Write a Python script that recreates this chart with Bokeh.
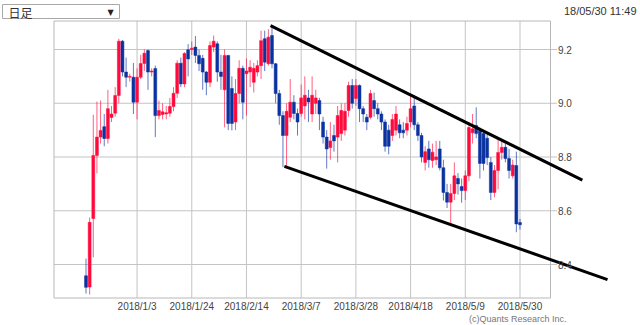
import pandas as pd
from bokeh.plotting import figure
from bokeh.models import ColumnDataSource, Range1d
from bokeh.core.properties import value
from bokeh.embed import file_html
from bokeh.resources import INLINE

# ---- data (daily candles, 2017/12/14 .. 2018/5/30) ----
dates = pd.bdate_range("2017-12-14", periods=120)

open_ = [8.358, 8.316, 8.571, 8.806, 8.874, 8.913, 8.869, 8.947, 8.963, 9.029,
         9.231, 9.116, 9.097, 9.097, 9.004, 9.097, 9.148, 9.196, 9.116, 9.129,
         8.954, 8.958, 8.960, 8.963, 8.988, 9.037, 9.149, 9.072, 9.199, 9.200,
         9.209, 9.178, 9.167, 9.116, 9.078, 9.209, 9.221, 9.116, 9.050, 9.178,
         9.055, 8.930, 9.036, 9.130, 9.110, 9.116, 9.078, 9.116, 9.140, 9.240,
         9.147, 9.252, 9.147, 9.036, 8.954, 8.880, 8.948, 9.004, 8.962, 8.962,
         8.990, 9.020, 8.960, 9.000, 9.010, 8.930, 8.874, 8.835, 8.880, 8.874,
         8.887, 8.900, 8.973, 9.066, 9.018, 9.066, 8.980, 8.948, 8.948, 9.010,
         8.980, 8.960, 8.930, 8.900, 8.880, 8.900, 8.920, 8.900, 8.900, 8.930,
         8.990, 8.920, 8.880, 8.780, 8.830, 8.787, 8.790, 8.830, 8.760, 8.668,
         8.632, 8.664, 8.720, 8.690, 8.675, 8.730, 8.890, 8.917, 8.899, 8.887,
         8.870, 8.780, 8.668, 8.750, 8.817, 8.836, 8.794, 8.730, 8.768, 8.556]
high = [8.422, 8.575, 8.957, 9.006, 9.010, 8.960, 9.050, 8.990, 9.060, 9.240,
        9.235, 9.170, 9.110, 9.150, 9.130, 9.180, 9.200, 9.200, 9.130, 9.140,
        9.010, 9.000, 8.990, 9.020, 9.060, 9.160, 9.170, 9.190, 9.220, 9.230,
        9.250, 9.200, 9.180, 9.120, 9.230, 9.252, 9.230, 9.180, 9.200, 9.180,
        9.100, 9.090, 9.160, 9.140, 9.167, 9.160, 9.150, 9.160, 9.270, 9.270,
        9.275, 9.289, 9.150, 9.050, 8.970, 9.000, 9.090, 9.030, 8.980, 9.070,
        9.100, 9.050, 9.100, 9.050, 9.020, 8.950, 8.900, 8.930, 8.920, 8.990,
        9.000, 9.000, 9.080, 9.090, 9.090, 9.070, 8.990, 8.960, 9.050, 9.040,
        9.000, 8.970, 8.940, 8.920, 8.960, 8.990, 8.940, 8.930, 8.950, 9.030,
        9.030, 8.930, 8.890, 8.840, 8.860, 8.850, 8.860, 8.860, 8.790, 8.700,
        8.700, 8.780, 8.740, 8.720, 8.750, 8.930, 8.960, 8.985, 8.910, 8.900,
        8.890, 8.800, 8.770, 8.870, 8.860, 8.850, 8.830, 8.790, 8.820, 8.570]
low = [8.292, 8.288, 8.427, 8.739, 8.850, 8.840, 8.850, 8.930, 8.950, 9.000,
       9.100, 9.060, 9.080, 8.960, 8.940, 9.090, 9.120, 9.050, 9.100, 8.874,
       8.940, 8.940, 8.940, 8.950, 8.970, 9.020, 9.060, 9.060, 9.100, 9.180,
       9.150, 9.120, 9.050, 9.030, 9.060, 9.190, 9.080, 9.050, 8.910, 8.900,
       8.899, 8.900, 9.000, 8.940, 8.954, 9.060, 9.040, 9.100, 9.090, 9.120,
       9.140, 9.130, 9.000, 8.920, 8.762, 8.757, 8.930, 8.940, 8.880, 8.950,
       8.940, 8.930, 8.930, 8.960, 8.900, 8.850, 8.757, 8.790, 8.820, 8.780,
       8.860, 8.880, 8.950, 8.980, 8.990, 8.930, 8.930, 8.900, 8.940, 8.950,
       8.940, 8.900, 8.820, 8.810, 8.860, 8.880, 8.870, 8.870, 8.880, 8.910,
       8.900, 8.860, 8.780, 8.750, 8.760, 8.760, 8.770, 8.750, 8.638, 8.610,
       8.553, 8.640, 8.660, 8.630, 8.640, 8.710, 8.850, 8.870, 8.720, 8.750,
       8.770, 8.640, 8.650, 8.680, 8.790, 8.780, 8.720, 8.720, 8.520, 8.530]
close = [8.315, 8.557, 8.806, 8.874, 8.899, 8.869, 8.980, 8.960, 9.029, 9.231,
         9.116, 9.097, 9.100, 9.004, 9.097, 9.148, 9.186, 9.116, 9.120, 8.954,
         8.973, 8.968, 8.965, 8.988, 9.037, 9.149, 9.072, 9.185, 9.165, 9.205,
         9.178, 9.147, 9.116, 9.078, 9.215, 9.231, 9.116, 9.100, 9.178, 8.925,
         8.925, 9.036, 9.130, 9.004, 9.120, 9.134, 9.130, 9.140, 9.233, 9.153,
         9.246, 9.147, 9.036, 8.954, 8.880, 8.970, 9.004, 8.962, 8.930, 9.020,
         9.030, 9.005, 9.030, 9.020, 8.960, 8.874, 8.830, 8.860, 8.860, 8.954,
         8.973, 8.970, 9.066, 9.000, 9.066, 8.980, 8.960, 8.930, 9.036, 8.980,
         8.960, 8.930, 8.840, 8.840, 8.940, 8.960, 8.890, 8.890, 8.925, 8.980,
         8.920, 8.880, 8.800, 8.820, 8.790, 8.818, 8.800, 8.760, 8.668, 8.632,
         8.664, 8.730, 8.700, 8.675, 8.730, 8.910, 8.905, 8.887, 8.776, 8.776,
         8.798, 8.668, 8.750, 8.817, 8.836, 8.794, 8.750, 8.770, 8.551, 8.548]

tick_labels = ["2018/1/3", "2018/1/24", "2018/2/14", "2018/3/7",
               "2018/3/28", "2018/4/18", "2018/5/9", "2018/5/30"]
y_ticks = [8.4, 8.6, 8.8, 9.0, 9.2]
y_tick_labels = ["8.4", "8.6", "8.8", "9.0", "9.2"]

# trend lines drawn on the chart (candle index, price)
upper_trend_idx = [50.6, 136.1]
upper_trend_val = [9.289, 8.714]
lower_trend_idx = [54.4, 143.0]
lower_trend_val = [8.765, 8.344]

# ---- layout constants (pixels) ----
W, H = 640, 325
X0_PX, DX_PX = 85.5, 3.647          # pixel of candle 0, pixels per candle
Y_REF, Y_REF_PX, DY_PX = 9.2, 49.0, 268.75   # price 9.2 at y=49px, px per 1.0
BOX_L, BOX_R, BOX_T, BOX_B = 53.5, 550.0, 20.5, 297.5
TICK_END = 556.5


def ix(px):
    return (px - X0_PX) / DX_PX


def vy(py):
    return Y_REF - (py - Y_REF_PX) / DY_PX


labels_all = [f"{d.year}/{d.month}/{d.day}" for d in dates]
tick_pos = [labels_all.index(t) for t in tick_labels]

UP = "#ff0a3c"
DN = "#0a32a0"
GRID = "#c4c4c4"
idx = list(range(len(dates)))
colors = [UP if c >= o else DN for o, c in zip(open_, close)]
src = ColumnDataSource(dict(
    x=idx, high=high, low=low,
    top=[max(o, c) for o, c in zip(open_, close)],
    bottom=[min(o, c) for o, c in zip(open_, close)],
    color=colors))

p = figure(width=W, height=H, output_backend="svg", toolbar_location=None,
           x_range=Range1d(ix(0), ix(W)), y_range=Range1d(vy(H), vy(0)),
           min_border=0, x_axis_type=None, y_axis_type=None)
p.outline_line_color = None
p.grid.visible = False
p.background_fill_color = "white"
p.border_fill_color = "white"

# grid
p.segment(x0=tick_pos, x1=tick_pos, y0=[vy(BOX_B)] * len(tick_pos),
          y1=[vy(BOX_T)] * len(tick_pos), line_color=GRID, line_width=1)
p.segment(x0=[ix(BOX_L)] * len(y_ticks), x1=[ix(TICK_END)] * len(y_ticks),
          y0=y_ticks, y1=y_ticks, line_color=GRID, line_width=1)
# plot box
p.quad(left=[ix(BOX_L)], right=[ix(BOX_R)], bottom=[vy(BOX_B)], top=[vy(BOX_T)],
       fill_color=None, line_color="#b8b8b8", line_width=1)

# candles
p.segment(x0="x", y0="low", x1="x", y1="high", color="color", line_width=1,
          line_alpha=0.65, source=src)
p.vbar(x="x", top="top", bottom="bottom", width=0.8, fill_color="color",
       line_color="color", line_width=0.5, source=src)

# trend lines
p.line(upper_trend_idx, upper_trend_val, line_color="black", line_width=3)
p.line(lower_trend_idx, lower_trend_val, line_color="black", line_width=3)

# axis labels
p.text(x=tick_pos, y=[vy(BOX_B + 3)] * len(tick_pos), text=tick_labels,
       text_font=value("Liberation Sans"), text_font_size=value("10px"),
       text_color="#444444", text_align="center", text_baseline="top")
p.text(x=[ix(TICK_END + 1)] * len(y_ticks), y=y_ticks, text=y_tick_labels,
       text_font=value("Liberation Sans"), text_font_size=value("10px"),
       text_color="#444444", text_align="left", text_baseline="middle")

# header: selector box, timestamp; footer: copyright
p.quad(left=[ix(2)], right=[ix(119)], top=[vy(4)], bottom=[vy(18)],
       fill_color="white", line_color="#a8a8a8", line_width=1)
p.text(x=[ix(8)], y=[vy(11.5)], text=["日足"], text_font=value("Noto Sans CJK JP"),
       text_font_size=value("12px"), text_color="#333333", text_baseline="middle")
p.text(x=[ix(110)], y=[vy(11.5)], text=["▼"], text_font=value("DejaVu Sans"),
       text_font_size=value("8px"), text_color="#222222", text_align="center",
       text_baseline="middle")
p.text(x=[ix(636)], y=[vy(10)], text=["18/05/30 11:49"], text_font=value("Liberation Sans"),
       text_font_size=value("11px"), text_color="#333333", text_align="right",
       text_baseline="middle")
p.text(x=[ix(566)], y=[vy(318)], text=["(c)Quants Research Inc."],
       text_font=value("Liberation Sans"), text_font_size=value("9px"),
       text_color="#777777", text_align="right", text_baseline="middle")

open("out.html", "w").write(file_html(p, INLINE))
